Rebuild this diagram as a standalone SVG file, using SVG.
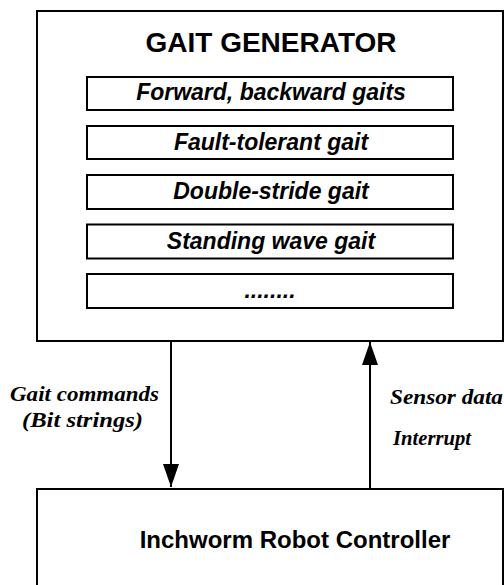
<svg xmlns="http://www.w3.org/2000/svg" width="504" height="585" viewBox="0 0 504 585">
<style>
.box{fill:#fff;stroke:#000;stroke-width:2}
.item{fill:#fff;stroke:#000;stroke-width:2}
.title{font-family:"Liberation Sans",Arial,sans-serif;font-weight:bold;fill:#000;text-anchor:middle}
.itxt{font-family:"Liberation Sans",Arial,sans-serif;font-weight:bold;font-style:italic;font-size:23px;fill:#000;text-anchor:middle}
.lbl{font-family:"Liberation Serif","Times New Roman",serif;font-weight:bold;font-style:italic;font-size:22px;fill:#000}
.conn{stroke:#000;stroke-width:2;fill:none}
</style>
<defs>
<marker id="ah" markerUnits="userSpaceOnUse" markerWidth="23" markerHeight="16" refX="23" refY="8" orient="auto" viewBox="0 0 23 16">
<path d="M0,0 L23,8 L0,16 Z" fill="#000"/>
</marker>
</defs>
<g id="gait-generator">
<rect class="box" x="37" y="11" width="466" height="330"/>
<text class="title" x="271" y="52" font-size="28">GAIT GENERATOR</text>
</g>
<g id="item-forward">
<rect class="item" x="87" y="77" width="366" height="33"/>
<text class="itxt" x="271" y="100">Forward, backward gaits</text>
</g>
<g id="item-fault">
<rect class="item" x="87" y="126" width="366" height="33"/>
<text class="itxt" x="271" y="149.5">Fault-tolerant gait</text>
</g>
<g id="item-double">
<rect class="item" x="87" y="175" width="366" height="34"/>
<text class="itxt" x="271" y="199">Double-stride gait</text>
</g>
<g id="item-standing">
<rect class="item" x="87" y="224.5" width="366" height="34"/>
<text class="itxt" x="271" y="248.5">Standing wave gait</text>
</g>
<g id="item-more">
<rect class="item" x="87" y="274" width="366" height="34"/>
<text class="itxt" x="270" y="297.5">........</text>
</g>
<g id="controller">
<rect class="box" x="37" y="489" width="466" height="110"/>
<text class="title" x="295" y="548" font-size="24">Inchworm Robot Controller</text>
</g>
<g id="connectors">
<line class="conn" x1="171" y1="341" x2="171" y2="487" marker-end="url(#ah)"/>
<line class="conn" x1="370" y1="489" x2="370" y2="342" marker-end="url(#ah)"/>
</g>
<g id="labels">
<text class="lbl" x="10" y="400.5" textLength="149" lengthAdjust="spacingAndGlyphs">Gait commands</text>
<text class="lbl" x="22" y="427" textLength="121" lengthAdjust="spacingAndGlyphs">(Bit strings)</text>
<text class="lbl" x="390" y="404" textLength="113" lengthAdjust="spacingAndGlyphs">Sensor data</text>
<text class="lbl" x="393" y="445" textLength="78" lengthAdjust="spacingAndGlyphs">Interrupt</text>
</g>
</svg>
